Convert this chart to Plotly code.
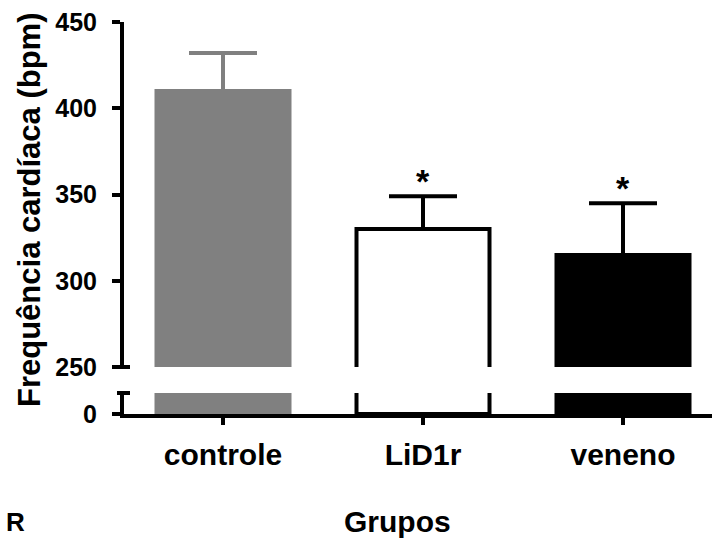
import plotly.graph_objects as go

# Heart rate per group (mean and upward SEM), bpm
groups = ["controle", "LiD1r", "veneno"]
means = [410, 330, 315]
sems = [22, 19, 30]
fills = ["#808080", "#ffffff", "#000000"]
edges = ["#808080", "#000000", "#000000"]
significant = [False, True, True]

upper_ticks = [250, 300, 350, 400, 450]
lower_ticks = [0]

FONT = "Liberation Sans, Arial, Helvetica, sans-serif"
BAR_W = 0.665

fig = go.Figure()

for g, m, s, fc, ec in zip(groups, means, sems, fills, edges):
    # upper segment of the broken axis (250-450)
    fig.add_trace(go.Bar(
        x=[g], y=[m], xaxis="x", yaxis="y2", width=BAR_W,
        marker=dict(color=fc, line=dict(color=ec, width=4)),
        error_y=dict(type="data", array=[s], arrayminus=[0], symmetric=False,
                     color=ec, thickness=4, width=34),
        showlegend=False, hoverinfo="skip",
    ))
    # lower segment near zero
    fig.add_trace(go.Bar(
        x=[g], y=[m], xaxis="x", yaxis="y", width=BAR_W,
        marker=dict(color=fc, line=dict(color=ec, width=4)),
        showlegend=False, hoverinfo="skip",
    ))

annotations = []
for g, m, s, sig in zip(groups, means, sems, significant):
    if sig:
        annotations.append(dict(
            x=g, y=m + s, xref="x", yref="y2", text="*", showarrow=False,
            yanchor="middle", yshift=15,
            font=dict(family=FONT, size=34, color="black", weight="bold"),
        ))

annotations += [
    dict(text="Frequência cardíaca (bpm)", textangle=-90, showarrow=False,
         xref="paper", yref="paper", x=(29 - 124) / 588, y=(414 - 210) / 392,
         xanchor="center", yanchor="middle",
         font=dict(family=FONT, size=31, color="black", weight="bold")),
    dict(text="Grupos", showarrow=False, xref="paper", yref="paper",
         x=(397 - 124) / 588, y=(414 - 521) / 392,
         xanchor="center", yanchor="middle",
         font=dict(family=FONT, size=30, color="black", weight="bold")),
    dict(text="R", showarrow=False, xref="paper", yref="paper",
         x=(4 - 124) / 588, y=(414 - 522) / 392,
         xanchor="left", yanchor="middle",
         font=dict(family=FONT, size=26, color="black", weight="bold")),
]

axis_common = dict(
    showline=True, linewidth=4, linecolor="black", ticks="outside",
    tickwidth=4, tickcolor="black", showgrid=False, zeroline=False,
    tickfont=dict(family=FONT, size=25, color="black", weight="bold"),
)

# small end caps marking the axis break
break_caps = [
    dict(type="line", xref="paper", yref="y2 domain",
         x0=(117 - 124) / 588, x1=(130 - 124) / 588, y0=0, y1=0,
         line=dict(color="black", width=4)),
    dict(type="line", xref="paper", yref="y domain",
         x0=(117 - 124) / 588, x1=(130 - 124) / 588, y0=1, y1=1,
         line=dict(color="black", width=4)),
]

fig.update_layout(
    width=712, height=538,
    margin=dict(l=124, r=0, t=22, b=124),
    paper_bgcolor="white", plot_bgcolor="white",
    barmode="overlay",
    xaxis=dict(
        type="category", categoryorder="array", categoryarray=groups,
        range=[-0.495, 2.445], domain=[0, 1], anchor="y",
        showline=True, linewidth=4, linecolor="black", ticks="outside",
        ticklen=7, tickwidth=4, tickcolor="black",
        showgrid=False, zeroline=False, ticklabelstandoff=4,
        tickfont=dict(family=FONT, size=30, color="black", weight="bold"),
    ),
    yaxis=dict(domain=[0, (414 - 393) / 392], range=[0, 12],
               tickvals=lower_ticks, ticklen=8, anchor="x",
               ticklabelstandoff=10, **axis_common),
    yaxis2=dict(domain=[(414 - 367) / 392, 1], range=[250, 450],
                tickvals=upper_ticks, ticklen=8, anchor="x",
                ticklabelstandoff=10, **axis_common),
    annotations=annotations,
    shapes=break_caps,
)

fig.write_html("out.html")
